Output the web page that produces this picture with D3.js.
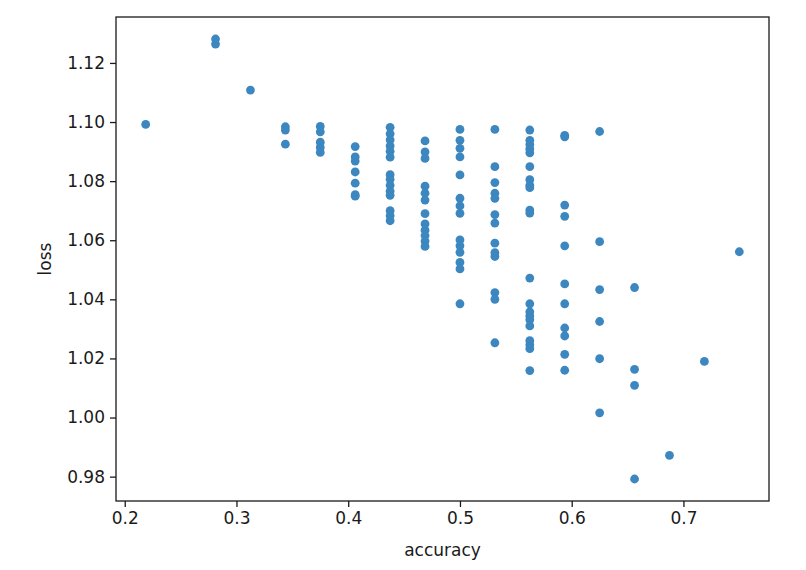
<!DOCTYPE html>
<html>
<head>
<meta charset="utf-8">
<script src="https://cdn.jsdelivr.net/npm/d3@7"></script>
<style>
  body { margin: 0; background: #fff; }
  text { font-family: "DejaVu Sans", sans-serif; }
</style>
</head>
<body>
<script>
// accuracy per column (multiples of 1/32)
var accuracy = [0.21875, 0.28125, 0.3125, 0.34375, 0.375, 0.40625, 0.4375, 0.46875,
                0.5, 0.53125, 0.5625, 0.59375, 0.625, 0.65625, 0.6875, 0.71875, 0.75]

// loss values found at each accuracy
var loss = [
    [1.0992],
    [1.1281, 1.1264],
    [1.1108],
    [1.0984, 1.0973, 1.0925],
    [1.0985, 1.0967, 1.0932, 1.0914, 1.0897],
    [1.0917, 1.0882, 1.0868, 1.0831, 1.0793, 1.0754, 1.0749],
    [1.0982, 1.0960, 1.0940, 1.0919, 1.0901, 1.0881, 1.0822, 1.0806, 1.0786, 1.0766, 1.0752, 1.0700, 1.0683, 1.0666],
    [1.0936, 1.0899, 1.0877, 1.0783, 1.0759, 1.0736, 1.0690, 1.0655, 1.0634, 1.0616, 1.0597, 1.0579],
    [1.0975, 1.0938, 1.0911, 1.0882, 1.0821, 1.0742, 1.0716, 1.0691, 1.0601, 1.0581, 1.0559, 1.0525, 1.0503, 1.0385],
    [1.0975, 1.0849, 1.0795, 1.0759, 1.0742, 1.0687, 1.0658, 1.0590, 1.0558, 1.0545, 1.0423, 1.0400, 1.0253],
    [1.0973, 1.0938, 1.0924, 1.0909, 1.0896, 1.0849, 1.0805, 1.0786, 1.0778, 1.0702, 1.0692, 1.0472, 1.0385, 1.0358, 1.0344, 1.0331, 1.0310, 1.0260, 1.0246, 1.0233, 1.0159],
    [1.0955, 1.0950, 1.0719, 1.0681, 1.0581, 1.0452, 1.0385, 1.0303, 1.0276, 1.0214, 1.0160],
    [1.0968, 1.0595, 1.0433, 1.0325, 1.0199, 1.0016],
    [1.0440, 1.0163, 1.0109, 0.9792],
    [0.9872],
    [1.0190],
    [1.0561]
]

var xTicks = [0.2, 0.3, 0.4, 0.5, 0.6, 0.7]
var yTicks = [0.98, 1.00, 1.02, 1.04, 1.06, 1.08, 1.10, 1.12]

var points = []
accuracy.forEach(function (a, i) {
    loss[i].forEach(function (l) { points.push({x: a, y: l}) })
})

var W = 806, H = 570
var margin = {top: 17, right: 37, bottom: 69, left: 116},
    width = W - margin.left - margin.right,
    height = H - margin.top - margin.bottom

// matplotlib style 5% padding around the data
function padded(ext) {
    var p = (ext[1] - ext[0]) * 0.05
    return [ext[0] - p, ext[1] + p]
}

var x = d3.scaleLinear()
    .domain(padded(d3.extent(points, function (d) { return d.x })))
    .range([0, width])

var y = d3.scaleLinear()
    .domain(padded(d3.extent(points, function (d) { return d.y })))
    .range([height, 0])

var svg = d3.select("body")
    .append("svg")
    .attr("width", W)
    .attr("height", H)
    .append("g")
    .attr("transform", "translate(" + margin.left + "," + margin.top + ")")

svg.selectAll("circle.pt")
    .data(points)
    .enter()
    .append("circle")
        .attr("class", "pt")
        .attr("cx", function (d) { return x(d.x) })
        .attr("cy", function (d) { return y(d.y) })
        .attr("r", 4.4)
        .style("fill", "#3d87c0")

var xAxis = svg.append("g")
    .attr("transform", "translate(0," + height + ")")
    .call(d3.axisBottom(x).tickValues(xTicks).tickSize(6).tickPadding(5).tickFormat(d3.format("")))

var yAxis = svg.append("g")
    .call(d3.axisLeft(y).tickValues(yTicks).tickSize(6).tickPadding(5).tickFormat(d3.format(".2f")))

;[xAxis, yAxis].forEach(function (g) {
    g.select(".domain").remove()
    g.selectAll("text").style("font-size", "17px").style("fill", "#1a1a1a")
    g.selectAll("line").style("stroke", "#1a1a1a").style("stroke-width", 1.3)
})

svg.append("rect")
    .attr("width", width)
    .attr("height", height)
    .style("fill", "none")
    .style("stroke", "#1a1a1a")
    .style("stroke-width", 1.3)

svg.append("text")
    .attr("x", width / 2)
    .attr("y", height + 55)
    .attr("text-anchor", "middle")
    .style("font-size", "17px")
    .style("fill", "#1a1a1a")
    .text("accuracy")

svg.append("text")
    .attr("transform", "translate(" + (-65) + "," + (height / 2) + ") rotate(-90)")
    .attr("text-anchor", "middle")
    .style("font-size", "17px")
    .style("fill", "#1a1a1a")
    .text("loss")
</script>
</body>
</html>
